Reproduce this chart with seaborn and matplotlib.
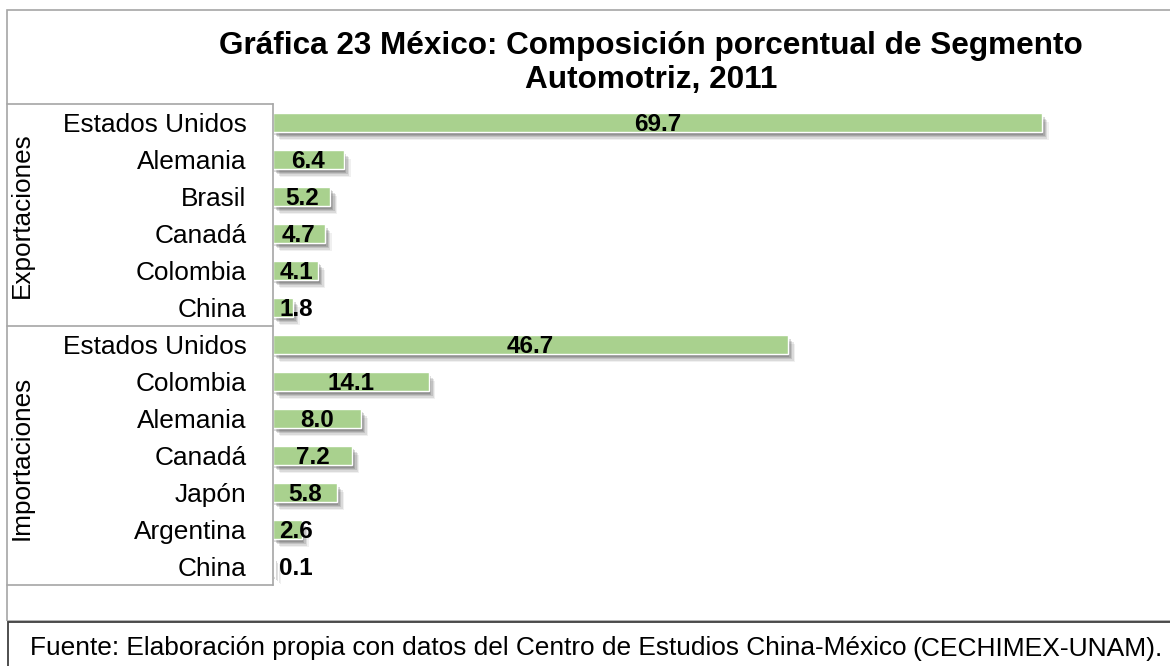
import pandas as pd
import seaborn as sns
import matplotlib.pyplot as plt
import matplotlib.patheffects as pe
from matplotlib.lines import Line2D
from matplotlib.patches import Rectangle

# Datos de la gráfica
grupos = ["Exportaciones"] * 6 + ["Importaciones"] * 7
paises = ["Estados Unidos", "Alemania", "Brasil", "Canadá", "Colombia", "China",
          "Estados Unidos", "Colombia", "Alemania", "Canadá", "Japón", "Argentina", "China"]
valores = [69.7, 6.4, 5.2, 4.7, 4.1, 1.8,
           46.7, 14.1, 8.0, 7.2, 5.8, 2.6, 0.1]

titulo = "Gráfica 23 México: Composición porcentual de Segmento\nAutomotriz, 2011"
fuente_1 = "Fuente: Elaboración propia con datos del Centro de Estudios China-México"
fuente_2 = "(CECHIMEX-UNAM)."

W, H = 1170, 666
VERDE = "#A9D18E"
GRIS = "#A6A6A6"


def fx(px):
    return px / W


def fy(py):
    return 1 - py / H


df = pd.DataFrame({"grupo": grupos, "pais": paises, "valor": valores})
df["clave"] = df["grupo"] + "|" + df["pais"]

sns.set_style("white")
plt.rcParams["font.family"] = ["Liberation Sans", "DejaVu Sans"]
plt.rcParams["text.color"] = "black"
plt.rcParams["ytick.color"] = "black"
plt.rcParams["ytick.labelcolor"] = "black"

fig = plt.figure(figsize=(W / 100, H / 100), dpi=100)

# marco exterior del gráfico y recuadro de la fuente
fig.patches.append(Rectangle((fx(7), fy(621)), fx(1200 - 7), fy(10) - fy(621),
                             transform=fig.transFigure, fill=False, edgecolor=GRIS, lw=1.2))
fig.patches.append(Rectangle((fx(8), fy(700)), fx(1200), fy(622) - fy(700),
                             transform=fig.transFigure, fill=False, edgecolor="#404040", lw=1.3))

ax = fig.add_axes([fx(273), fy(585), fx(1160 - 273), fy(104) - fy(585)])

sns.barplot(data=df, x="valor", y="clave", color=VERDE, saturation=1, width=0.5,
            orient="h", ax=ax)

# sombra difusa bajo cada barra
sombra = [pe.SimplePatchShadow(offset=(d, -d - 1), shadow_rgbFace="#404040", alpha=a)
          for d, a in [(5, 0.08), (4, 0.12), (3, 0.16), (2, 0.2), (1, 0.2)]]
for p in ax.patches:
    p.set_path_effects(sombra + [pe.Normal()])

ax.set_xlim(0, (1160 - 273) / 11.03)
ax.set_xticks([])
ax.set_xlabel("")
ax.set_ylabel("")
ax.set_yticks(range(len(df)))
ax.set_yticklabels(df["pais"], fontsize=18.9)
ax.tick_params(axis="y", length=0, pad=19)
for s in ["top", "right", "bottom"]:
    ax.spines[s].set_visible(False)
ax.spines["left"].set_color(GRIS)
ax.spines["left"].set_linewidth(1.2)

# etiquetas de datos
for i, v in enumerate(df["valor"]):
    ax.text(max(v / 2, 2.1), i + 0.05, f"{v:.1f}", ha="center", va="center",
            fontsize=17.5, fontweight="bold", color="black")

# tabla de categorías de dos niveles
for y in [104, 326, 585]:
    fig.add_artist(Line2D([fx(7), fx(273)], [fy(y), fy(y)], transform=fig.transFigure,
                          color=GRIS, lw=1.2))

fig.text(fx(22), fy(215), "Exportaciones", rotation=90, ha="center", va="center", fontsize=18.8)
fig.text(fx(22), fy(458), "Importaciones", rotation=90, ha="center", va="center", fontsize=18.8)

fig.text(fx(651), fy(63), titulo, ha="center", va="center", fontsize=22.7,
         fontweight="bold", linespacing=1.2)

fig.text(fx(30), fy(648), fuente_1, ha="left", va="center", fontsize=18.9)
fig.text(fx(1163), fy(649), fuente_2, ha="right", va="center", fontsize=19)

fig.savefig("out.png", dpi=100)
